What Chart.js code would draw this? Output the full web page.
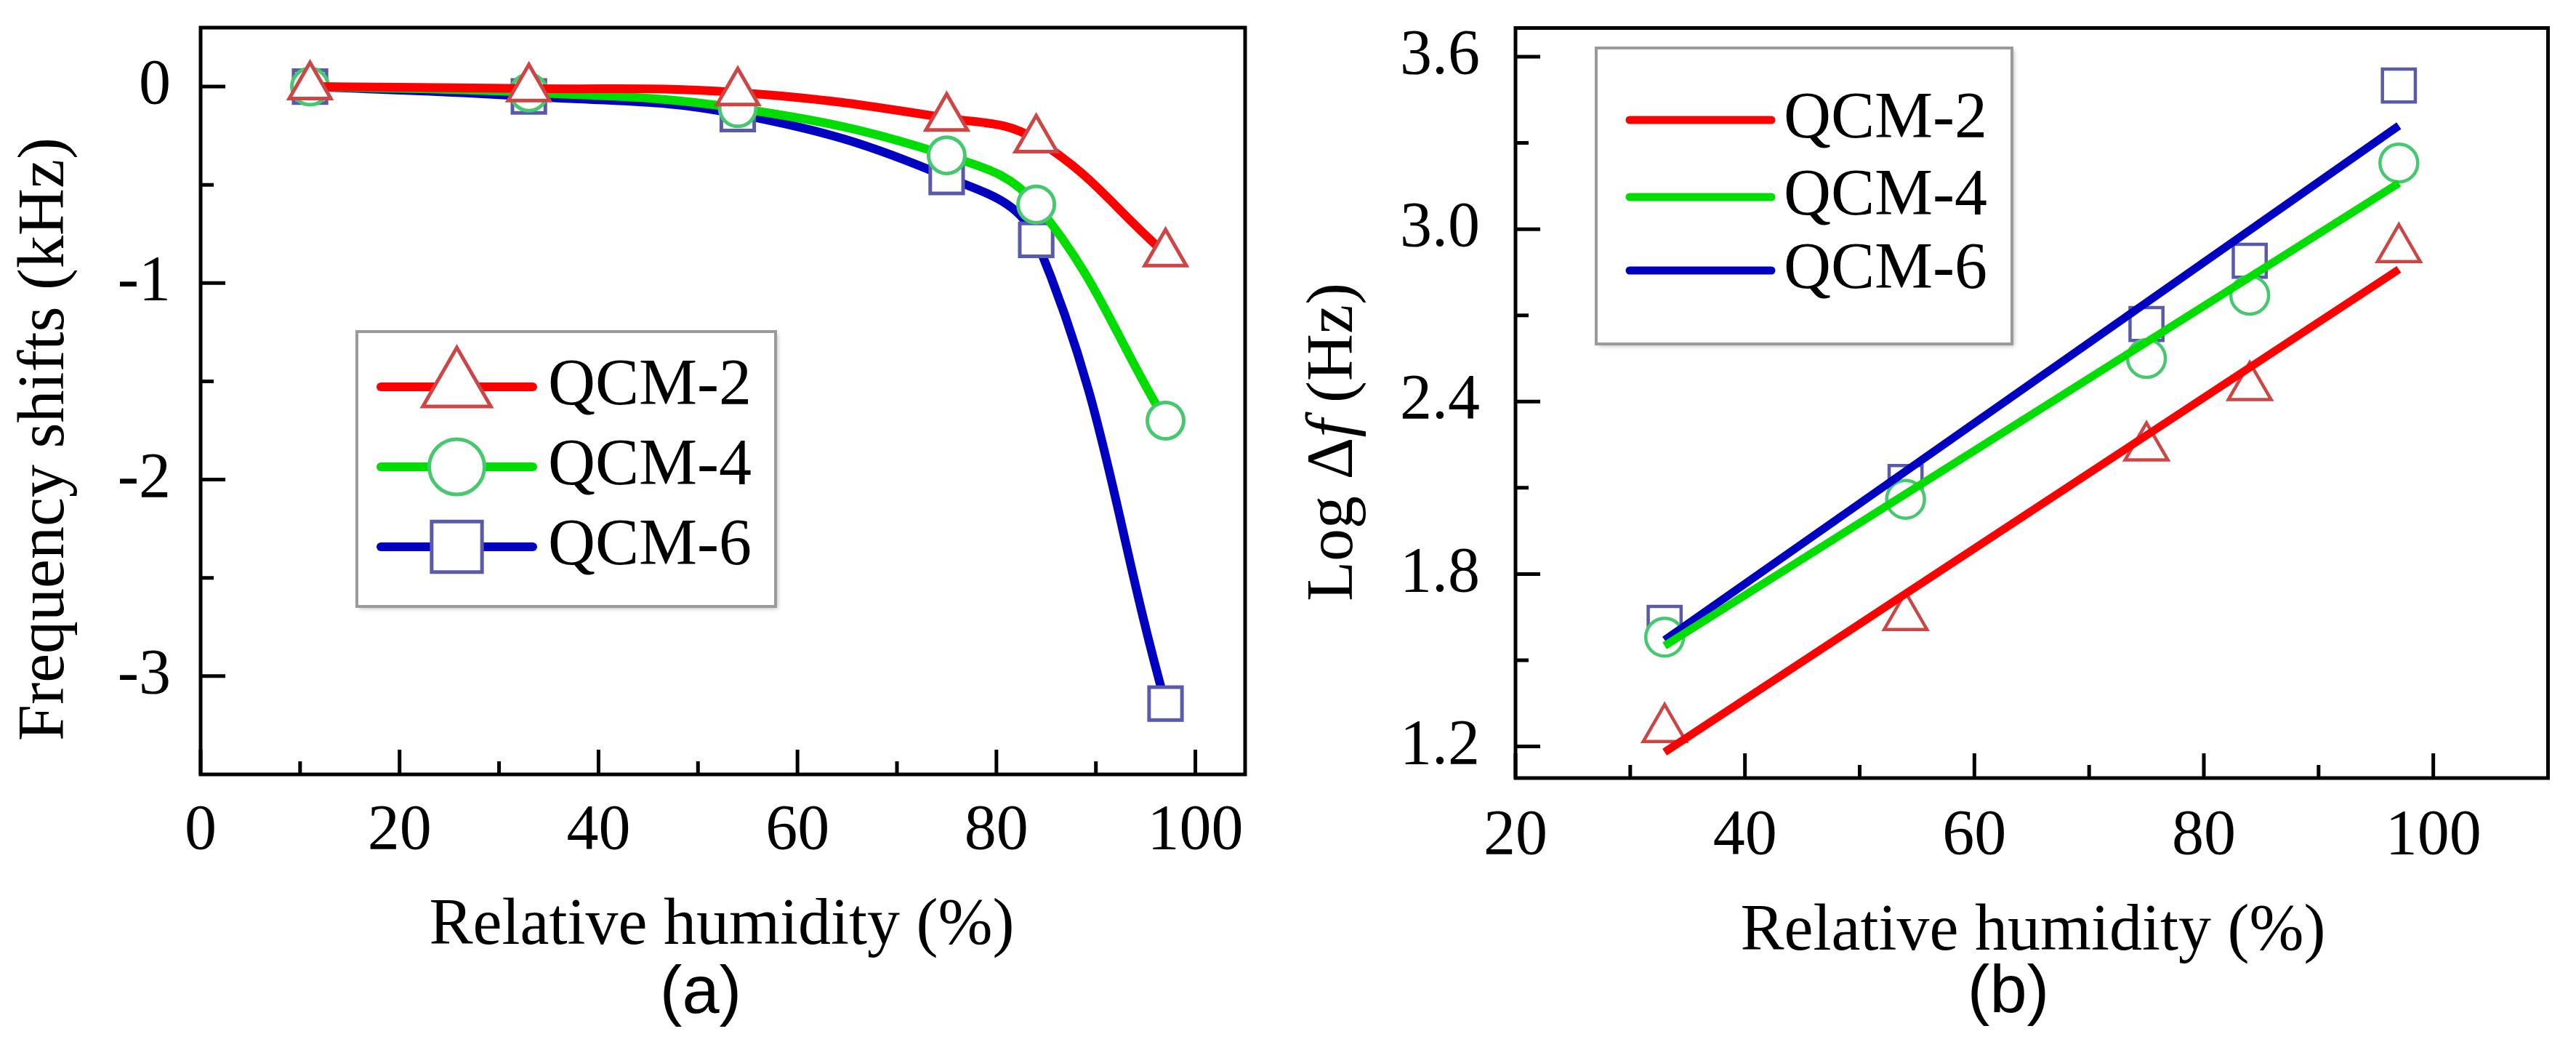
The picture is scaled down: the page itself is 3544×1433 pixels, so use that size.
<!DOCTYPE html>
<html>
<head>
<meta charset="utf-8">
<script src="https://cdn.jsdelivr.net/npm/chart.js@4.4.1/dist/chart.umd.min.js"></script>
<style>
  html, body { margin: 0; padding: 0; background: #fff; overflow: hidden; }
  .panel { position: absolute; top: 0; width: 1772px; height: 1433px; }
</style>
</head>
<body>
<div class="panel" style="left:0"><canvas id="chartA" width="1772" height="1433"></canvas></div>
<div class="panel" style="left:1772px"><canvas id="chartB" width="1772" height="1433"></canvas></div>
<script>
const names = ["QCM-2", "QCM-4", "QCM-6"];

// (a) frequency shift vs RH
const rhA = [11, 33, 54, 75, 84, 97];
const qcm2A = [0, -0.01, -0.03, -0.16, -0.27, -0.85];
const qcm4A = [0, -0.03, -0.11, -0.35, -0.6, -1.7];
const qcm6A = [0, -0.05, -0.14, -0.46, -0.78, -3.14];

// (b) log of frequency shift vs RH, with linear fits
const rhB = [33, 54, 75, 84, 97];
const qcm2B = [1.26, 1.65, 2.24, 2.45, 2.93];
const qcm4B = [1.58, 2.06, 2.55, 2.77, 3.23];
const qcm6B = [1.63, 2.12, 2.67, 2.89, 3.5];
const fitX = [33, 97];
const fit2 = [1.18, 2.86];
const fit4 = [1.55, 3.16];
const fit6 = [1.57, 3.36];

// tick values
const xTicksA = [0, 20, 40, 60, 80, 100];
const xMinorA = [10, 30, 50, 70, 90];
const yTicksA = [-3, -2, -1, 0];
const yMinorA = [-2.5, -1.5, -0.5];
const xTicksB = [20, 40, 60, 80, 100];
const xMinorB = [30, 50, 70, 90];
const yTicksB = [1.2, 1.8, 2.4, 3.0, 3.6];
const yMinorB = [1.5, 2.1, 2.7, 3.3];

const SERIF = "'Liberation Serif', 'Times New Roman', serif";
const SANS = "'Liberation Sans', Arial, sans-serif";
const lineColors = ["#ff0000", "#00dd00", "#0000c0"];
const markColors = ["rgb(205,70,70)", "rgb(70,200,110)", "rgb(90,90,170)"];
const styles = ["triangle", "circle", "rect"];

Chart.defaults.font.family = SERIF;
Chart.defaults.color = "#000";

const pts = (xs, ys) => xs.map((x, i) => ({ x: x, y: ys[i] }));

function marker(ctx, style, x, y, r) {
    ctx.beginPath();
    if (style === "circle") {
        ctx.arc(x, y, r, 0, Math.PI * 2);
    } else if (style === "rect") {
        const s = Math.SQRT1_2 * r;
        ctx.rect(x - s, y - s, 2 * s, 2 * s);
    } else {
        ctx.moveTo(x, y - r);
        ctx.lineTo(x + 0.866 * r, y + 0.5 * r);
        ctx.lineTo(x - 0.866 * r, y + 0.5 * r);
        ctx.closePath();
    }
    ctx.fill();
    ctx.stroke();
}

// box around plot + inward ticks
const framePlugin = {
    id: "frame",
    afterDraw(chart, args, o) {
        const { ctx, chartArea: a, scales } = chart;
        ctx.save();
        ctx.strokeStyle = "#000";
        ctx.lineWidth = 5;
        ctx.strokeRect(a.left, a.top, a.right - a.left, a.bottom - a.top);
        ctx.beginPath();
        const xt = (vals, len) => vals.forEach(v => {
            const px = scales.x.getPixelForValue(v);
            ctx.moveTo(px, a.bottom);
            ctx.lineTo(px, a.bottom - len);
        });
        const yt = (vals, len) => vals.forEach(v => {
            const py = scales.y.getPixelForValue(v);
            ctx.moveTo(a.left, py);
            ctx.lineTo(a.left + len, py);
        });
        xt(o.xMajor, 34); xt(o.xMinor, 18);
        yt(o.yMajor, 34); yt(o.yMinor, 18);
        ctx.stroke();
        ctx.restore();
    }
};

const legendPlugin = {
    id: "boxLegend",
    afterDatasetsDraw(chart, args, o) {
        const ctx = chart.ctx;
        const [bx, by, bw, bh] = o.box;
        ctx.save();
        ctx.fillStyle = "#fff";
        ctx.shadowColor = "rgba(0,0,0,0.25)";
        ctx.shadowBlur = 6;
        ctx.shadowOffsetX = 3;
        ctx.shadowOffsetY = 3;
        ctx.fillRect(bx, by, bw, bh);
        ctx.shadowColor = "transparent";
        ctx.strokeStyle = "#9a9a9a";
        ctx.lineWidth = 4;
        ctx.strokeRect(bx, by, bw, bh);
        o.rows.forEach((y, i) => {
            ctx.strokeStyle = lineColors[i];
            ctx.lineWidth = o.lineWidth;
            ctx.lineCap = "round";
            ctx.beginPath();
            ctx.moveTo(o.lineX[0], y);
            ctx.lineTo(o.lineX[1], y);
            ctx.stroke();
            if (o.markers) {
                ctx.fillStyle = "#fff";
                ctx.strokeStyle = markColors[i];
                ctx.lineWidth = 5;
                ctx.lineCap = "butt";
                marker(ctx, styles[i], (o.lineX[0] + o.lineX[1]) / 2, y, o.markers[i]);
            }
            ctx.fillStyle = "#000";
            ctx.font = "90px " + SERIF;
            ctx.textAlign = "left";
            ctx.textBaseline = "middle";
            ctx.fillText(names[i], o.textX, y);
        });
        ctx.restore();
    }
};

// axis titles and panel letter
const titlePlugin = {
    id: "titles",
    afterDraw(chart, args, o) {
        const ctx = chart.ctx;
        o.items.forEach(t => {
            ctx.save();
            ctx.translate(t.x, t.y);
            if (t.rotate) ctx.rotate(-Math.PI / 2);
            ctx.fillStyle = "#000";
            ctx.textBaseline = t.baseline || "alphabetic";
            ctx.textAlign = "left";
            let total = 0;
            t.parts.forEach(p => { ctx.font = p.font; total += ctx.measureText(p.text).width; });
            let cx = -total / 2;
            t.parts.forEach(p => {
                ctx.font = p.font;
                ctx.fillText(p.text, cx, 0);
                cx += ctx.measureText(p.text).width;
            });
            ctx.restore();
        });
    }
};

function scale(min, max, ticks, opts) {
    return {
        type: "linear",
        min: min,
        max: max,
        grid: { display: false, drawTicks: false },
        border: { display: false },
        afterBuildTicks: s => { s.ticks = ticks.map(v => ({ value: v })); },
        afterFit: s => {
            if (opts.w) s.width = opts.w;
            if (opts.h) s.height = opts.h;
            s.paddingTop = 0; s.paddingBottom = 0; s.paddingLeft = 0; s.paddingRight = 0;
        },
        ticks: {
            padding: opts.pad,
            font: { size: 88 },
            color: "#000",
            callback: opts.fmt || (v => String(v))
        }
    };
}

const pointOpts = (i, radii, bw) => ({
    pointStyle: styles[i],
    pointRadius: radii[i],
    pointHoverRadius: radii[i],
    pointBackgroundColor: "#fff",
    pointBorderColor: markColors[i],
    pointBorderWidth: bw
});

const seriesA = [qcm2A, qcm4A, qcm6A];
const configA = {
    type: "line",
    data: {
        datasets: seriesA.map((ys, i) => Object.assign({
            label: names[i],
            data: pts(rhA, ys),
            borderColor: lineColors[i],
            borderWidth: 12,
            tension: 0.4,
            fill: false
        }, pointOpts(i, [33, 25, 32], 5)))
    },
    options: {
        responsive: false,
        animation: false,
        devicePixelRatio: 1,
        layout: { padding: { top: 26, right: 59, left: 0, bottom: 0 } },
        scales: {
            x: scale(0, 105, xTicksA, { h: 368, pad: 26 }),
            y: scale(-3.5, 0.3, yTicksA, { w: 276, pad: 41 })
        },
        plugins: {
            legend: { display: false },
            tooltip: { enabled: false },
            frame: { xMajor: xTicksA, xMinor: xMinorA, yMajor: yTicksA, yMinor: yMinorA },
            boxLegend: {
                box: [491, 456, 576, 378],
                rows: [532, 642, 752],
                lineX: [524, 733],
                lineWidth: 12,
                markers: [54, 38, 49],
                textX: 754
            },
            titles: {
                items: [
                    { x: 993, y: 1298, parts: [{ text: "Relative humidity (%)", font: "90px " + SERIF }] },
                    { x: 964, y: 1393, parts: [{ text: "(a)", font: "92px " + SANS }] },
                    { x: 63, y: 604, rotate: true, baseline: "middle",
                      parts: [{ text: "Frequency shifts (kHz)", font: "90px " + SERIF }] }
                ]
            }
        }
    },
    plugins: [legendPlugin, framePlugin, titlePlugin]
};

const seriesB = [qcm2B, qcm4B, qcm6B];
const fitsB = [fit2, fit4, fit6];
const configB = {
    type: "line",
    data: {
        datasets: fitsB.map((ys, i) => ({
            label: names[i],
            data: pts(fitX, ys),
            borderColor: lineColors[i],
            borderWidth: 11,
            pointRadius: 0,
            fill: false
        })).concat(seriesB.map((ys, i) => Object.assign({
            label: names[i] + " data",
            data: pts(rhB, ys),
            showLine: false
        }, pointOpts(i, [34, 26, 32], 4.5))))
    },
    options: {
        responsive: false,
        animation: false,
        devicePixelRatio: 1,
        layout: { padding: { top: 28, right: 32, left: 0, bottom: 0 } },
        scales: {
            x: scale(20, 110, xTicksB, { h: 363, pad: 28 }),
            y: scale(1.09, 3.7, yTicksB, { w: 313, pad: 49, fmt: v => v.toFixed(1) })
        },
        plugins: {
            legend: { display: false },
            tooltip: { enabled: false },
            frame: { xMajor: xTicksB, xMinor: xMinorB, yMajor: yTicksB, yMinor: yMinorB },
            boxLegend: {
                box: [424, 66, 572, 407],
                rows: [165, 271, 372],
                lineX: [470, 665],
                lineWidth: 11,
                markers: null,
                textX: 682
            },
            titles: {
                items: [
                    { x: 1025, y: 1306, parts: [{ text: "Relative humidity (%)", font: "90px " + SERIF }] },
                    { x: 991, y: 1392, parts: [{ text: "(b)", font: "92px " + SANS }] },
                    { x: 64, y: 608, rotate: true, baseline: "middle",
                      parts: [
                          { text: "Log \u0394", font: "90px " + SERIF },
                          { text: "f", font: "italic 90px " + SERIF },
                          { text: " (Hz)", font: "90px " + SERIF }
                      ] }
                ]
            }
        }
    },
    plugins: [legendPlugin, framePlugin, titlePlugin]
};

var chartA = new Chart(document.getElementById("chartA"), configA);
var chartB = new Chart(document.getElementById("chartB"), configB);
</script>
</body>
</html>
